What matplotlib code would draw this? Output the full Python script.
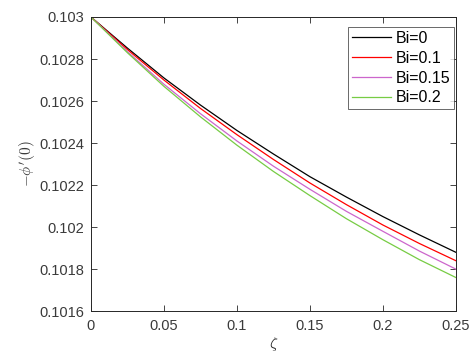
import matplotlib
matplotlib.use('Agg')
import matplotlib.pyplot as plt

# values
zeta = [0, 0.025, 0.05, 0.075, 0.1, 0.125, 0.15, 0.175, 0.2, 0.225, 0.25]
bi_0 = [0.1030, 0.102852, 0.10271, 0.102581, 0.10246, 0.102348, 0.10224, 0.102143, 0.10205, 0.101963, 0.10188]
bi_01 = [0.1030, 0.102845, 0.10270, 0.102565, 0.10244, 0.102322, 0.10221, 0.102107, 0.10201, 0.101922, 0.10184]
bi_015 = [0.1030, 0.102835, 0.10268, 0.102540, 0.10241, 0.102290, 0.10218, 0.102075, 0.10198, 0.101886, 0.10180]
bi_02 = [0.1030, 0.102830, 0.10267, 0.102525, 0.10239, 0.102265, 0.10215, 0.102040, 0.10194, 0.101845, 0.10176]

labels = ['Bi=0', 'Bi=0.1', 'Bi=0.15', 'Bi=0.2']
colors = ['#000000', '#ff0000', '#cc66cc', '#77cc44']

plt.rcParams['font.family'] = ['Liberation Sans', 'DejaVu Sans']
plt.rcParams['mathtext.fontset'] = 'cm'

fig = plt.figure(figsize=(4.71, 3.54), dpi=100)
ax = fig.add_axes([0.193, 0.121, 0.775, 0.831])

for ys, lab, c in zip([bi_0, bi_01, bi_015, bi_02], labels, colors):
    ax.plot(zeta, ys, color=c, linewidth=0.9, label=lab)

ax.set_xlim(0, 0.25)
ax.set_ylim(0.1016, 0.1030)
ax.set_xticks([0, 0.05, 0.1, 0.15, 0.2, 0.25])
ax.set_xticklabels(['0', '0.05', '0.1', '0.15', '0.2', '0.25'])
ax.set_yticks([0.1016, 0.1018, 0.102, 0.1022, 0.1024, 0.1026, 0.1028, 0.103])
ax.set_yticklabels(['0.1016', '0.1018', '0.102', '0.1022', '0.1024', '0.1026', '0.1028', '0.103'])

gray = '#262626'
ax.tick_params(direction='in', length=4, width=0.6, colors=gray, labelsize=10.5,
               top=True, right=True, labelcolor='#3a3a3a')
ax.tick_params(axis='x', pad=6)
ax.tick_params(axis='y', pad=5)
for s in ax.spines.values():
    s.set_linewidth(0.7)
    s.set_color(gray)

ax.set_xlabel(r'$\zeta$', fontsize=11, color=gray, labelpad=1)
ax.set_ylabel(r"$-\phi'(0)$", fontsize=11, color='#3a3a3a', labelpad=1)

leg = ax.legend(loc='upper right', bbox_to_anchor=(0.995, 0.966), fontsize=11.5,
                frameon=True, fancybox=False, edgecolor=gray, handlelength=2.5,
                handletextpad=0.25, borderaxespad=0.0, labelspacing=0.3,
                borderpad=0.25)
leg.get_frame().set_linewidth(0.6)

fig.savefig('out.png', dpi=100)
